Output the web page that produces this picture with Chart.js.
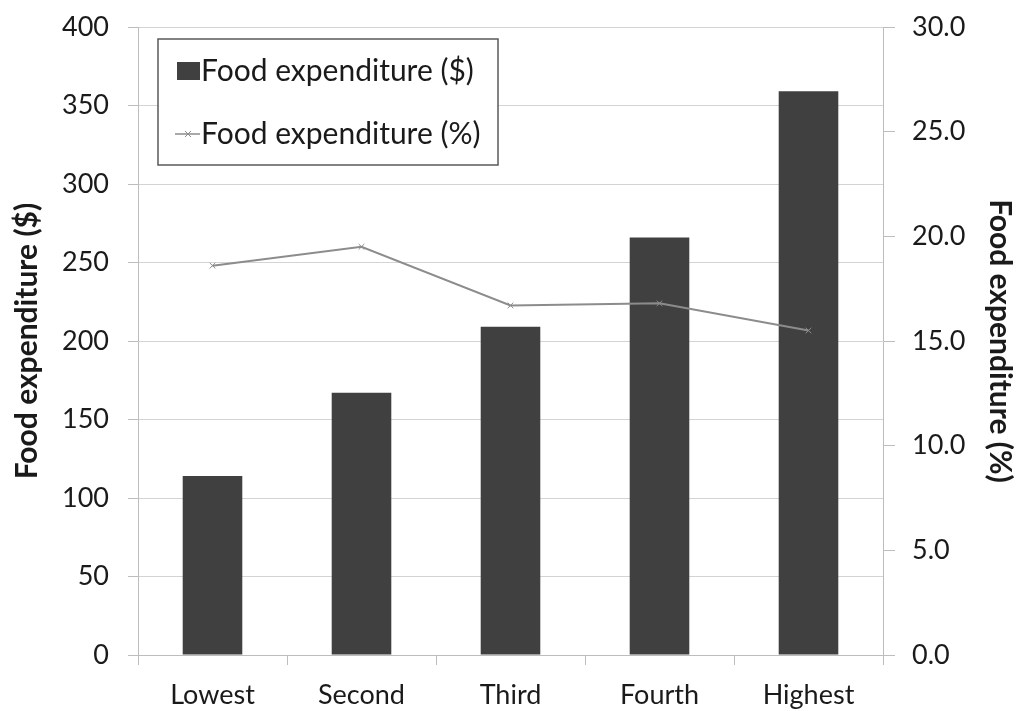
<!DOCTYPE html>
<html>
<head>
<meta charset="utf-8">
<script src="https://cdn.jsdelivr.net/npm/chart.js@4.4.1/dist/chart.umd.min.js"></script>
<style>
  html, body { margin: 0; padding: 0; background: #fff; }
  #wrap { width: 1027px; height: 711px; position: relative; }
</style>
</head>
<body>
<div id="wrap"><canvas id="foodChart"></canvas></div>
<script>
const quintiles = ['Lowest', 'Second', 'Third', 'Fourth', 'Highest'];
const foodDollars = [114, 167, 209, 266, 359];
const foodPercent = [18.6, 19.5, 16.7, 16.8, 15.5];
const dollarLabel = 'Food expenditure ($)';
const percentLabel = 'Food expenditure (%)';

const barColor = '#404040';
const lineColor = '#8c8c8c';
const gridColor = '#d4d4d4';
const axisColor = '#bdbdbd';

// legend box sits inside the plot area, top-left
const insideLegend = {
  id: 'insideLegend',
  afterDatasetsDraw(chart) {
    const ctx = chart.ctx;
    const a = chart.chartArea;
    const x = a.left + 20, y = a.top + 12, w = 340, h = 126;
    ctx.save();
    ctx.fillStyle = '#fff';
    ctx.fillRect(x, y, w, h);
    ctx.strokeStyle = '#5a5a5a';
    ctx.lineWidth = 1.5;
    ctx.strokeRect(x, y, w, h);

    ctx.font = '30px Lato';
    ctx.textBaseline = 'middle';
    // bar entry
    ctx.fillStyle = barColor;
    ctx.fillRect(x + 19, y + 23, 23, 18);
    ctx.fillStyle = '#1a1a1a';
    ctx.fillText(chart.data.datasets[0].label, x + 43, y + 32);
    // line entry
    const ly = y + 95;
    ctx.strokeStyle = lineColor;
    ctx.lineWidth = 1.5;
    ctx.beginPath();
    ctx.moveTo(x + 17, ly);
    ctx.lineTo(x + 42, ly);
    ctx.stroke();
    ctx.lineWidth = 1;
    ctx.beginPath();
    ctx.moveTo(x + 27, ly - 3); ctx.lineTo(x + 33, ly + 3);
    ctx.moveTo(x + 33, ly - 3); ctx.lineTo(x + 27, ly + 3);
    ctx.stroke();
    ctx.fillStyle = '#1a1a1a';
    ctx.fillText(chart.data.datasets[1].label, x + 43, ly);
    ctx.restore();
  }
};

const tickFont = { family: 'Lato', size: 27 };
const titleFont = { family: 'Lato', size: 30, weight: 'bold' };

const data = {
  labels: quintiles,
  datasets: [
    {
      label: dollarLabel,
      data: foodDollars,
      backgroundColor: barColor,
      borderWidth: 0,
      yAxisID: 'y',
      categoryPercentage: 1,
      barPercentage: 0.4,
      order: 2
    },
    {
      label: percentLabel,
      data: foodPercent,
      type: 'line',
      borderColor: lineColor,
      backgroundColor: lineColor,
      borderWidth: 2,
      pointStyle: 'crossRot',
      pointRadius: 4,
      pointBorderWidth: 1,
      tension: 0,
      yAxisID: 'y1',
      order: 1
    }
  ]
};

const config = {
  type: 'bar',
  data: data,
  plugins: [insideLegend],
  options: {
    responsive: false,
    animation: false,
    layout: { padding: { top: 27, left: 0, right: 0, bottom: 0 } },
    plugins: {
      legend: { display: false },
      tooltip: { enabled: false }
    },
    scales: {
      x: {
        grid: {
          offset: true,
          drawOnChartArea: false,
          drawTicks: true,
          tickLength: 10,
          color: axisColor
        },
        border: { color: axisColor },
        ticks: { color: '#1a1a1a', font: tickFont, padding: 14 },
        afterFit(scale) { scale.height = 56; }
      },
      y: {
        position: 'left',
        min: 0,
        max: 400,
        ticks: { stepSize: 50, color: '#1a1a1a', font: tickFont, padding: 19 },
        grid: { color: gridColor, tickLength: 10, tickColor: axisColor },
        border: { color: axisColor },
        title: {
          display: true,
          text: dollarLabel,
          color: '#1a1a1a',
          font: titleFont,
          padding: { top: 9, bottom: 0 }
        },
        afterFit(scale) {
          scale.width = 138;
          scale.paddingTop = 0;
        }
      },
      y1: {
        position: 'right',
        min: 0,
        max: 30,
        ticks: {
          stepSize: 5,
          color: '#1a1a1a',
          font: tickFont,
          padding: 17,
          callback: v => v.toFixed(1)
        },
        grid: { drawOnChartArea: false, tickLength: 12, color: axisColor },
        border: { color: axisColor },
        title: {
          display: true,
          text: percentLabel,
          color: '#1a1a1a',
          font: titleFont,
          padding: { top: 9, bottom: 0 }
        },
        afterFit(scale) {
          scale.width = 144;
          scale.paddingTop = 0;
        }
      }
    }
  }
};

const canvas = document.getElementById('foodChart');
canvas.width = 1027;
canvas.height = 711;
new Chart(canvas.getContext('2d'), config);
</script>
</body>
</html>
